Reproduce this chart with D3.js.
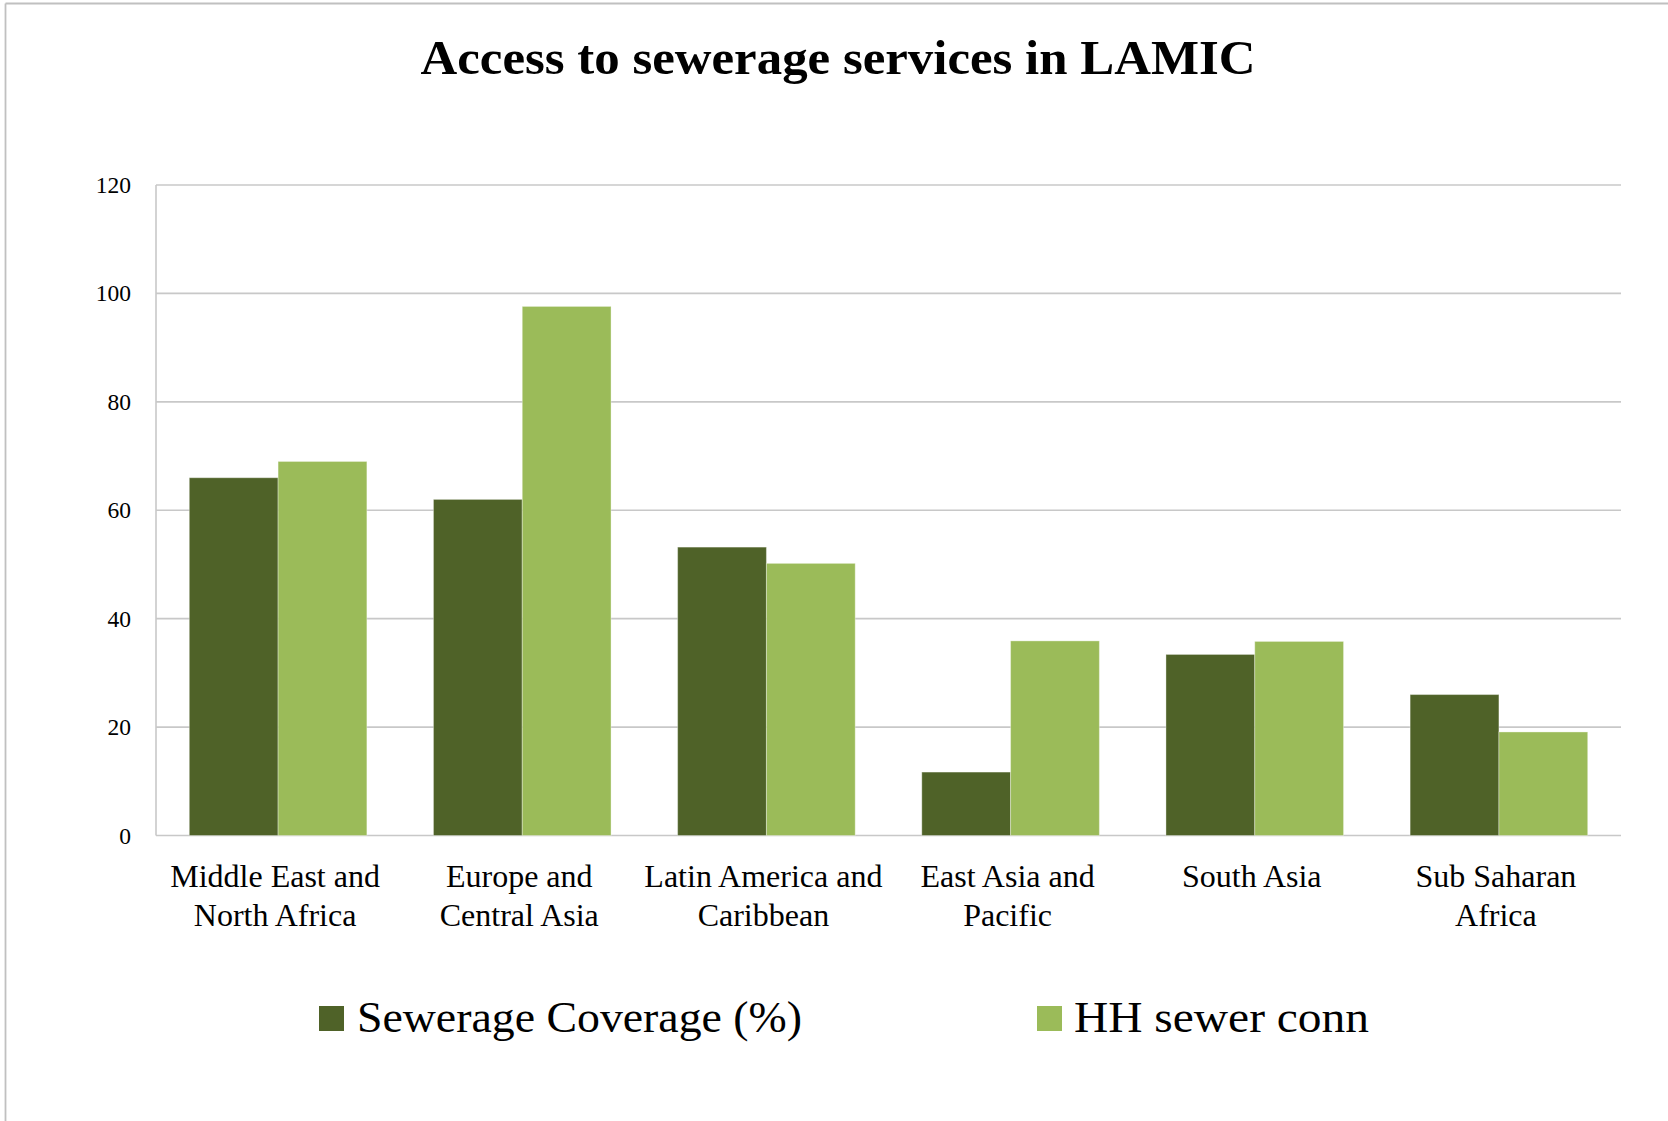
<!DOCTYPE html>
<html>
<head>
<meta charset="utf-8">
<script src="https://cdn.jsdelivr.net/npm/d3@7"></script>
<style>
  html, body { margin: 0; padding: 0; background: #fff; }
  svg { display: block; }
  text { font-family: "Liberation Serif", "DejaVu Serif", serif; fill: #000; }
</style>
</head>
<body>
<svg id="chart" width="1668" height="1121"></svg>
<script>
// Regions (two-line labels) and the two measured series
const categories = [
  ["Middle East and", "North Africa"],
  ["Europe and", "Central Asia"],
  ["Latin America and", "Caribbean"],
  ["East Asia and", "Pacific"],
  ["South Asia"],
  ["Sub Saharan", "Africa"]
];
const seriesNames = ["Sewerage Coverage (%)", "HH sewer conn"];
const sewerageCoverage = [66, 62, 53.2, 11.7, 33.4, 26];
const hhSewerConn = [69, 97.6, 50.2, 35.9, 35.8, 19.1];
const yTicks = [0, 20, 40, 60, 80, 100, 120];
const title = "Access to sewerage services in LAMIC";

const colors = ["#4F6228", "#9BBB59"];
const gridColor = "#C8C8C8";

const svg = d3.select("#chart");
const W = 1668, H = 1121;
const plot = { left: 156, right: 1621, top: 185, bottom: 835.5 };

// Outer frame (left and top edges visible)
svg.append("line").attr("x1", 5.5).attr("x2", 5.5).attr("y1", 3.5).attr("y2", H)
  .attr("stroke", "#C0C0C0").attr("stroke-width", 1.8);
svg.append("line").attr("x1", 5.5).attr("x2", W).attr("y1", 3.5).attr("y2", 3.5)
  .attr("stroke", "#C0C0C0").attr("stroke-width", 1.8);

// Title
svg.append("text")
  .attr("x", 838).attr("y", 74)
  .attr("text-anchor", "middle")
  .attr("font-weight", "bold")
  .attr("font-size", 49)
  .attr("textLength", 835)
  .attr("lengthAdjust", "spacingAndGlyphs")
  .text(title);

const keys = categories.map((c, i) => i);
const x0 = d3.scaleBand()
  .domain(keys)
  .range([plot.left, plot.right])
  .paddingInner(0.2727)
  .paddingOuter(0.2727 / 2);
const x1 = d3.scaleBand()
  .domain([0, 1])
  .range([0, x0.bandwidth()])
  .padding(0);
const y = d3.scaleLinear().domain([0, 120]).range([plot.bottom, plot.top]);

// Horizontal gridlines
svg.append("g")
  .selectAll("line")
  .data(yTicks)
  .join("line")
  .attr("x1", plot.left).attr("x2", plot.right)
  .attr("y1", d => y(d)).attr("y2", d => y(d))
  .attr("stroke", gridColor).attr("stroke-width", 1.6);

// Vertical axis line
svg.append("line")
  .attr("x1", plot.left).attr("x2", plot.left)
  .attr("y1", y(120)).attr("y2", y(0))
  .attr("stroke", gridColor).attr("stroke-width", 1.6);

// Y axis labels via d3 axis
const yAxis = d3.axisLeft(y).tickValues(yTicks).tickSize(0).tickPadding(25)
  .tickFormat(d3.format("d"));
const gy = svg.append("g").attr("transform", `translate(${plot.left},0)`).call(yAxis);
gy.select(".domain").remove();
gy.selectAll("text")
  .attr("font-family", "Liberation Serif, DejaVu Serif, serif")
  .attr("font-size", 23.5)
  .attr("fill", "#000");

// Bars
const rows = keys.map(i => ({ i, values: [sewerageCoverage[i], hhSewerConn[i]] }));
const groups = svg.append("g").selectAll("g")
  .data(rows)
  .join("g")
  .attr("transform", d => `translate(${x0(d.i)},0)`);
groups.selectAll("rect")
  .data(d => d.values.map((v, s) => ({ v, s })))
  .join("rect")
  .attr("x", d => x1(d.s))
  .attr("width", x1.bandwidth())
  .attr("y", d => y(d.v))
  .attr("height", d => y(0) - y(d.v))
  .attr("fill", d => colors[d.s])
  .attr("stroke", "#ffffff")
  .attr("stroke-opacity", 0.35)
  .attr("stroke-width", 1);

// Category labels
const labels = svg.append("g").selectAll("text")
  .data(rows)
  .join("text")
  .attr("text-anchor", "middle")
  .attr("font-size", 32)
  .attr("x", d => x0(d.i) + x0.bandwidth() / 2 - 3)
  .attr("y", 887);
labels.selectAll("tspan")
  .data(d => categories[d.i].map((t, k) => ({ t, k, cx: x0(d.i) + x0.bandwidth() / 2 - 3 })))
  .join("tspan")
  .attr("x", d => d.cx)
  .attr("dy", d => d.k === 0 ? 0 : 38.5)
  .text(d => d.t);

// Legend
const legendItems = [
  { name: seriesNames[0], color: colors[0], sx: 319, tx: 357, tw: 445 },
  { name: seriesNames[1], color: colors[1], sx: 1037, tx: 1074, tw: 295 }
];
const lg = svg.append("g").selectAll("g").data(legendItems).join("g");
lg.append("rect")
  .attr("x", d => d.sx).attr("y", 1006)
  .attr("width", 25).attr("height", 25)
  .attr("fill", d => d.color);
lg.append("text")
  .attr("x", d => d.tx).attr("y", 1032)
  .attr("font-size", 44)
  .attr("textLength", d => d.tw)
  .attr("lengthAdjust", "spacingAndGlyphs")
  .text(d => d.name);
</script>
</body>
</html>
